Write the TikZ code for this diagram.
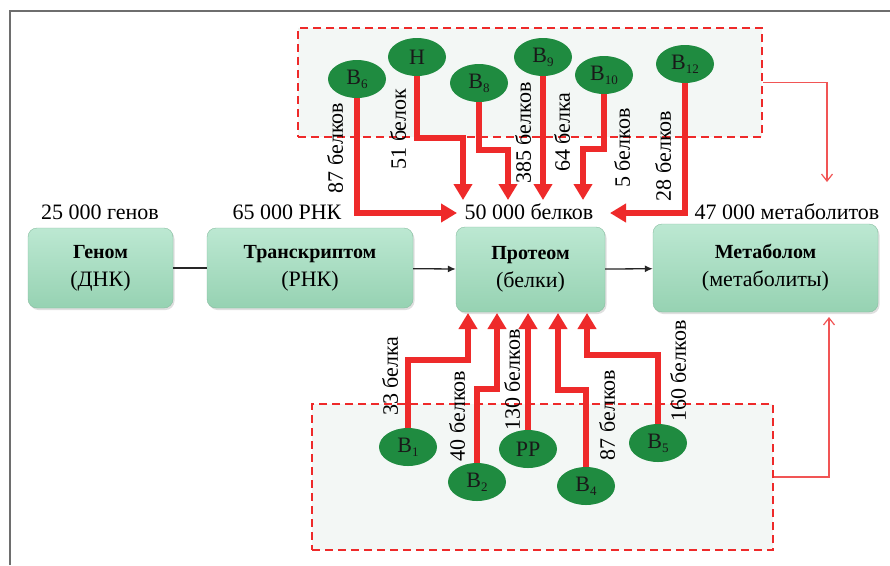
\documentclass[tikz,border=0pt]{standalone}
\usepackage{fontspec}
\setmainfont{Liberation Serif}
\usetikzlibrary{arrows.meta,shapes.geometric,shadows}
\definecolor{boxtop}{HTML}{BCE8D2}
\definecolor{boxbot}{HTML}{96D2B2}
\definecolor{ell}{HTML}{1F8B40}
\definecolor{rd}{HTML}{EE2A2A}
\definecolor{frm}{HTML}{6E6E6E}
\definecolor{zonec}{HTML}{F3F7F5}
\newcommand{\sbs}[1]{\raisebox{-0.4ex}{\fontsize{13}{13}\selectfont #1}}
\newcommand{\bxt}[2]{{\fontsize{20}{28}\selectfont\textbf{#1}}\\{\fontsize{22}{28}\selectfont #2}}
\begin{document}
\begin{tikzpicture}[x=1pt,y=-1pt,
  gbox/.style={rounded corners=9pt, top color=boxtop, bottom color=boxbot, draw=boxbot!90!black, line width=0.4pt,
    drop shadow={opacity=0.25, shadow xshift=1.5pt, shadow yshift=-2pt},
    align=center, font=\fontsize{20}{28}\selectfont, inner sep=0pt},
  ellnode/.style={ellipse, fill=ell, minimum width=58pt, minimum height=38pt, inner sep=0pt,
    font=\fontsize{22}{22}\selectfont, text=black!90},
  zone/.style={draw=rd, dash pattern=on 8pt off 5pt, line width=1.8pt, fill=zonec, minimum width=#1},
  lbl/.style={font=\fontsize{22}{22}\selectfont, inner sep=1pt},
  vlbl/.style={font=\fontsize{22}{22}\selectfont, rotate=90, inner sep=1pt},
  redarr/.style={draw=rd, line width=6pt, -{Triangle[length=16pt,width=18pt]}},
  thinarr/.style={draw=rd!80, line width=1.2pt, -{Straight Barb[length=7pt,width=11pt]}},
  blk/.style={draw=black!85, line width=1.3pt},
  blkarr/.style={blk, -{Latex[length=8pt,width=7pt]}}
]
\useasboundingbox (0,0) rectangle (890,565);
\fill[white] (0,0) rectangle (890,565);
\draw[frm, line width=2pt] (10,565) -- (10,11) -- (890,11);

% zones
\node[zone=464pt, minimum height=109pt] (tz) at (530,82.5) {};
\node[zone=461pt, minimum height=146pt] (bz) at (542.5,477) {};

% boxes
\node[gbox, minimum width=145pt, minimum height=80pt] (genom) at (100.5,268) {\bxt{Геном}{(ДНК)}};
\node[gbox, minimum width=206pt, minimum height=80pt] (trans) at (310,268) {\bxt{Транскриптом}{(РНК)}};
\node[gbox, minimum width=149pt, minimum height=85pt] (prot) at (530.5,269.5) {\bxt{Протеом}{(белки)}};
\node[gbox, minimum width=225pt, minimum height=88pt] (metab) at (765.5,268) {\bxt{Метаболом}{(метаболиты)}};

% counts
\node[lbl] (cg) at (100,212) {25 000 генов};
\node[lbl] (cr) at (287,212) {65 000 РНК};
\node[lbl] (cp) at (529,212) {50 000 белков};
\node[lbl] (cm) at (787,212) {47 000 метаболитов};

% black connectors
\draw[blk] (genom) -- (trans);
\draw[blkarr] (trans) -- (prot);
\draw[blkarr] (prot) -- (metab);

% top ellipses
\node[ellnode] (b6) at (357,79) {В\sbs{6}};
\node[ellnode] (h) at (417,57) {Н};
\node[ellnode] (b8) at (479,83) {В\sbs{8}};
\node[ellnode] (b9) at (543,57) {В\sbs{9}};
\node[ellnode] (b10) at (604,75) {В\sbs{10}};
\node[ellnode] (b12) at (685,64) {В\sbs{12}};

% top tips
\coordinate (t1) at (457,213);
\coordinate (t2) at (463,200);
\coordinate (t3) at (508,200);
\coordinate (t4) at (543,200);
\coordinate (t5) at (583,200);
\coordinate (t6) at (610,213);
\draw[redarr] (b6.south) |- (t1);
\draw[redarr] (h.south) |- (463,138) -- (t2);
\draw[redarr] (b8.south) |- (508,150) -- (t3);
\draw[redarr] (b9.south) -- (t4);
\draw[redarr] (b10.south) |- (583,149) -- (t5);
\draw[redarr] (b12.south) |- (t6);

% top labels
\node[vlbl] at (335,148) {87 белков};
\node[vlbl] at (398,129) {51 белок};
\node[vlbl] at (523,133) {385 белков};
\node[vlbl] at (562,132) {64 белка};
\node[vlbl] at (622,148) {5 белков};
\node[vlbl] at (663,156) {28 белков};

% bottom ellipses
\node[ellnode] (b1) at (408,447) {В\sbs{1}};
\node[ellnode] (b2) at (477,482) {В\sbs{2}};
\node[ellnode] (pp) at (528,449) {РР};
\node[ellnode] (b4) at (586,486) {В\sbs{4}};
\node[ellnode] (b5) at (658,443) {В\sbs{5}};

% bottom tips
\coordinate (u1) at (468,313);
\coordinate (u2) at (497,313);
\coordinate (u3) at (528,313);
\coordinate (u4) at (558,313);
\coordinate (u5) at (587,313);
\draw[redarr] (b1.north) |- (468,360) -- (u1);
\draw[redarr] (b2.north) |- (497,389) -- (u2);
\draw[redarr] (pp.north) -- (u3);
\draw[redarr] (b4.north) |- (558,390) -- (u4);
\draw[redarr] (b5.north) |- (587,355) -- (u5);

% bottom labels
\node[vlbl] at (390,376) {33 белка};
\node[vlbl] at (457,416) {40 белков};
\node[vlbl] at (512,380) {130 белков};
\node[vlbl] at (607,415) {87 белков};
\node[vlbl] at (678,371) {160 белков};

% thin arrows
\coordinate (m1) at (827,182);
\coordinate (m2) at (829,317);
\draw[thinarr] (tz.east) -| (m1);
\draw[thinarr] (bz.east) -| (m2);
\end{tikzpicture}
\end{document}
